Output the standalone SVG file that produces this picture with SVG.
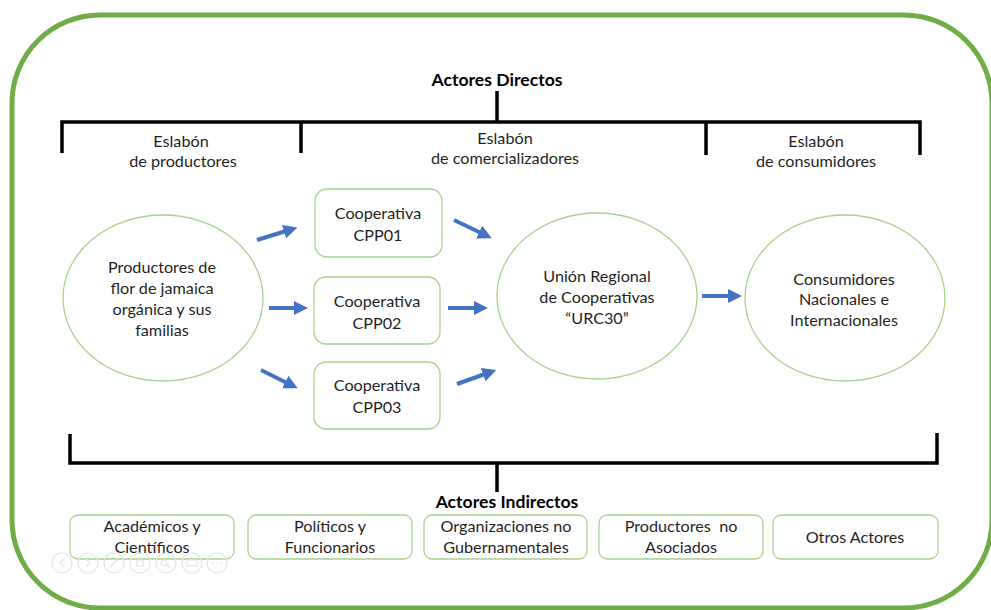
<svg xmlns="http://www.w3.org/2000/svg" width="991" height="610" viewBox="0 0 991 610">
<style>
text{font-family:Lato,"Open Sans","Noto Sans",sans-serif;fill:#1f1f1f;font-size:16.2px;text-anchor:middle}
.b{font-weight:bold;fill:#000;font-size:17.6px}
.node{fill:#fff;stroke:#A9D18E;stroke-width:1.3}
.br{fill:none;stroke:#000;stroke-width:3.5}
.arr{stroke:#4472C4;stroke-width:4;fill:none;marker-end:url(#ah)}
.tb{fill:none;stroke:#E4E4E4;stroke-width:1.2}
</style>
<defs>
<marker id="ah" markerUnits="userSpaceOnUse" markerWidth="14" markerHeight="14" viewBox="0 0 14 14" refX="2" refY="7" orient="auto">
<path d="M0,0 L14,7 L0,14 Z" fill="#4472C4"/>
</marker>
</defs>
<rect x="12" y="15" width="980" height="593" rx="88" ry="88" fill="#fff" stroke="#70AD47" stroke-width="5"/>

<g id="directos">
<text class="b" x="497" y="86">Actores Directos</text>
<path class="br" d="M497,91 V122 M62,153 V122 H920 V155 M301,122 V153 M706,122 V155"/>
<text x="181" y="147">Eslabón</text>
<text x="183" y="167">de productores</text>
<text x="505" y="144">Eslabón</text>
<text x="505" y="164">de comercializadores</text>
<text x="816" y="147">Eslabón</text>
<text x="816" y="167">de consumidores</text>
</g>

<g id="productores">
<ellipse class="node" cx="163" cy="298" rx="100" ry="83"/>
<text x="162" y="273">Productores de</text>
<text x="162" y="294">flor de jamaica</text>
<text x="162" y="315">orgánica y sus</text>
<text x="162" y="336">familias</text>
</g>
<g id="cpp01">
<rect class="node" x="315" y="189" width="127" height="68" rx="12"/>
<text x="378" y="219">Cooperativa</text>
<text x="378" y="241">CPP01</text>
</g>
<g id="cpp02">
<rect class="node" x="314" y="277" width="126" height="67" rx="12"/>
<text x="377" y="307">Cooperativa</text>
<text x="377" y="329">CPP02</text>
</g>
<g id="cpp03">
<rect class="node" x="314" y="362" width="126" height="67" rx="12"/>
<text x="377" y="391">Cooperativa</text>
<text x="377" y="413">CPP03</text>
</g>
<g id="urc30">
<ellipse class="node" cx="597" cy="296" rx="100" ry="83"/>
<text x="597" y="282">Unión Regional</text>
<text x="597" y="303">de Cooperativas</text>
<text x="597" y="324">“URC30”</text>
</g>
<g id="consumidores">
<ellipse class="node" cx="845" cy="298" rx="100" ry="83"/>
<text x="844" y="285">Consumidores</text>
<text x="844" y="305">Nacionales e</text>
<text x="844" y="326">Internacionales</text>
</g>

<g id="connectors">
<line class="arr" x1="257" y1="240" x2="286" y2="231"/>
<line class="arr" x1="269" y1="308" x2="296" y2="308"/>
<line class="arr" x1="261" y1="370" x2="287" y2="383"/>
<line class="arr" x1="454" y1="220" x2="481" y2="233"/>
<line class="arr" x1="448" y1="308" x2="476" y2="308"/>
<line class="arr" x1="457" y1="384" x2="485" y2="374"/>
<line class="arr" x1="702" y1="296" x2="730" y2="296"/>
</g>

<g id="indirectos">
<path class="br" d="M70,434 V463 H937 V433 M497,463 V492"/>
<text class="b" x="507" y="508">Actores Indirectos</text>
</g>
<g id="academicos">
<rect class="node" x="70" y="515" width="164" height="44" rx="8"/>
<text x="152" y="532">Académicos y</text>
<text x="152" y="553">Científicos</text>
</g>
<g id="politicos">
<rect class="node" x="248" y="515" width="164" height="44" rx="8"/>
<text x="330" y="532">Políticos y</text>
<text x="330" y="553">Funcionarios</text>
</g>
<g id="ong">
<rect class="node" x="424" y="515" width="163" height="44" rx="8"/>
<text x="506" y="532">Organizaciones no</text>
<text x="506" y="553">Gubernamentales</text>
</g>
<g id="noasociados">
<rect class="node" x="599" y="515" width="164" height="44" rx="8"/>
<text x="681" y="532" xml:space="preserve">Productores  no</text>
<text x="681" y="553">Asociados</text>
</g>
<g id="otros">
<rect class="node" x="773" y="515" width="165" height="44" rx="8"/>
<text x="855" y="543">Otros Actores</text>
</g>

<g id="toolbar">
<circle class="tb" cx="62" cy="563" r="10"/>
<circle class="tb" cx="88" cy="563" r="10"/>
<circle class="tb" cx="114" cy="563" r="10"/>
<circle class="tb" cx="140" cy="563" r="10"/>
<circle class="tb" cx="166" cy="563" r="10"/>
<circle class="tb" cx="192" cy="563" r="10"/>
<circle class="tb" cx="217" cy="563" r="10"/>
<path class="tb" d="M64,559 L60,563 L64,567 M86,559 L90,563 L86,567 M110,567 L118,559 M137,560 h6 v6 h-6 z M164,560 a3,3 0 1,0 0.1,0 M166,564 l4,4 M187,560 h10 v6 h-10 z"/>
<path d="M212,563 h1 M216,563 h1 M220,563 h1" stroke="#E4E4E4" stroke-width="1.5"/>
</g>
</svg>
